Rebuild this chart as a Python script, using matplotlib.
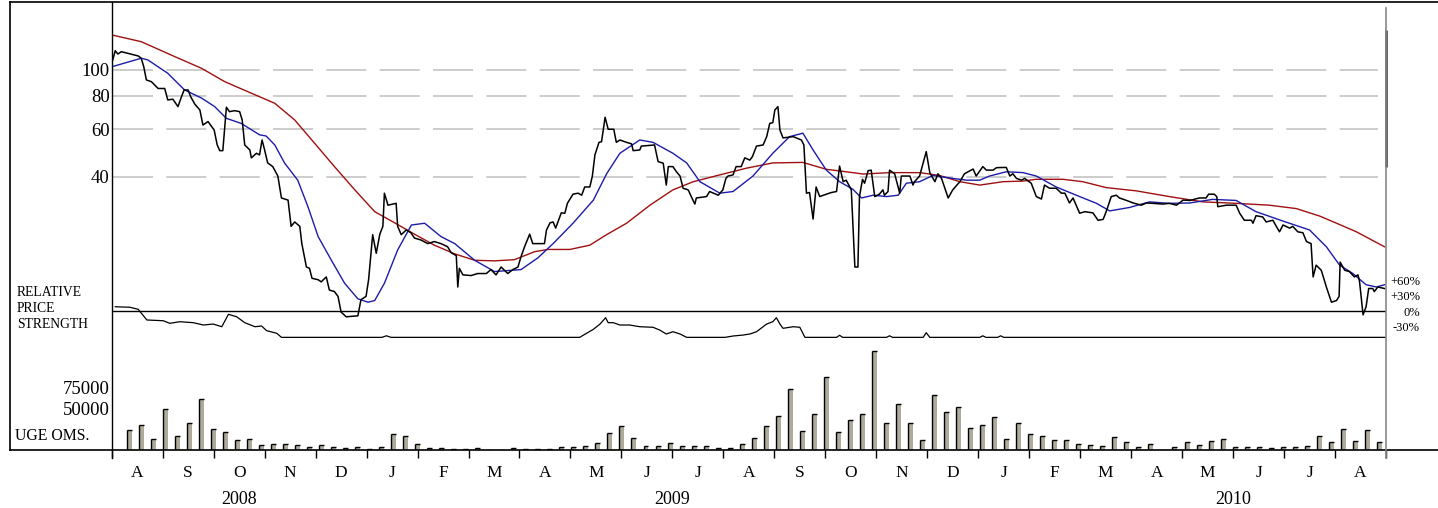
import numpy as np
import matplotlib
matplotlib.use("Agg")
import matplotlib.pyplot as plt
from matplotlib.lines import Line2D

plt.rcParams['font.family'] = ['Liberation Serif', 'DejaVu Serif']
plt.rcParams['lines.scale_dashes'] = False

# x values are months since 1 Aug 2008 (0 = Aug 2008 ... 25 = Sep 2010)
month_letters = ["A", "S", "O", "N", "D", "J", "F", "M", "A", "M", "J", "J",
                 "A", "S", "O", "N", "D", "J", "F", "M", "A", "M", "J", "J", "A"]
year_labels = ["2008", "2009", "2010"]
year_pos = [2.5, 11.0, 22.0]

price_t = [0.01, 0.07, 0.12, 0.19, 0.32, 0.52, 0.58, 0.63, 0.68, 0.78, 0.91, 1.04, 1.10, 1.20,
           1.30, 1.36, 1.42, 1.50, 1.55, 1.63, 1.73, 1.79, 1.89, 2.01, 2.07, 2.12, 2.18, 2.25,
           2.31, 2.41, 2.51, 2.56, 2.61, 2.71, 2.74, 2.84, 2.90, 2.95, 3.00, 3.06, 3.16, 3.26,
           3.33, 3.46, 3.52, 3.59, 3.69, 3.73, 3.82, 3.88, 3.93, 4.05, 4.11, 4.21, 4.27, 4.37,
           4.44, 4.50, 4.60, 4.83, 4.89, 4.99, 5.04, 5.12, 5.19, 5.26, 5.32, 5.35, 5.42, 5.58,
           5.61, 5.68, 5.78, 5.87, 5.94, 6.07, 6.20, 6.33, 6.46, 6.59, 6.66, 6.76, 6.79, 6.82,
           6.89, 7.05, 7.18, 7.35, 7.44, 7.54, 7.64, 7.77, 7.87, 7.97, 8.03, 8.10, 8.20, 8.26,
           8.49, 8.53, 8.60, 8.66, 8.71, 8.82, 8.89, 8.94, 9.05, 9.15, 9.22, 9.28, 9.38, 9.43,
           9.48, 9.56, 9.61, 9.68, 9.74, 9.85, 9.90, 9.97, 10.10, 10.20, 10.23, 10.36, 10.39,
           10.65, 10.72, 10.82, 10.88, 10.92, 11.01, 11.08, 11.15, 11.21, 11.31, 11.37, 11.44,
           11.47, 11.67, 11.73, 11.90, 11.99, 12.05, 12.09, 12.19, 12.25, 12.35, 12.42, 12.52,
           12.57, 12.65, 12.78, 12.85, 12.91, 12.97, 13.01, 13.07, 13.11, 13.17, 13.37, 13.43,
           13.53, 13.58, 13.63, 13.69, 13.76, 13.82, 13.89, 14.02, 14.12, 14.22, 14.28, 14.35,
           14.41, 14.51, 14.58, 14.64, 14.67, 14.73, 14.77, 14.84, 14.90, 14.97, 15.06, 15.13,
           15.16, 15.23, 15.26, 15.36, 15.46, 15.49, 15.66, 15.72, 15.75, 15.85, 15.98, 16.05,
           16.15, 16.21, 16.28, 16.41, 16.50, 16.64, 16.73, 16.90, 16.96, 17.09, 17.16, 17.29,
           17.36, 17.55, 17.62, 17.68, 17.75, 17.85, 17.91, 18.04, 18.14, 18.24, 18.30, 18.40,
           18.53, 18.63, 18.70, 18.79, 18.86, 18.99, 19.09, 19.25, 19.35, 19.45, 19.51, 19.61,
           19.71, 19.77, 19.91, 20.04, 20.20, 20.30, 20.43, 20.62, 20.75, 20.89, 21.02, 21.15,
           21.34, 21.47, 21.52, 21.63, 21.68, 21.70, 21.87, 22.06, 22.13, 22.22, 22.36, 22.39,
           22.45, 22.58, 22.65, 22.78, 22.91, 22.98, 23.11, 23.17, 23.27, 23.37, 23.44, 23.53,
           23.57, 23.63, 23.73, 23.83, 23.93, 24.03, 24.08, 24.10, 24.19, 24.28, 24.38, 24.45,
           24.48, 24.55, 24.61, 24.66, 24.74, 24.77, 24.84, 24.97]
price_v = [107.4, 118, 114.7, 117, 115.3, 112.8, 110.6, 102.6, 91.8, 90.4, 85.3, 85.3, 77.3, 77.8,
           73.0, 78.6, 84.2, 84.2, 79.4, 74.6, 70.9, 62.3, 64.2, 59.7, 52.5, 50.0, 50.0, 72.6,
           69.9, 70.5, 69.9, 65.1, 52.5, 50.3, 47.0, 48.9, 48.2, 54.8, 50.3, 45.0, 43.6, 40.2,
           33.3, 32.7, 26.1, 27.1, 26.1, 22.5, 18.4, 18.2, 16.7, 16.5, 16.2, 16.9, 15.1, 14.9,
           14.3, 12.5, 12.0, 12.1, 13.9, 14.3, 16.5, 24.3, 20.7, 24.4, 26.1, 34.7, 31.3, 31.8,
           26.1, 24.3, 25.3, 24.7, 23.6, 23.2, 22.5, 22.9, 22.5, 21.9, 20.8, 20.3, 15.5, 18.2,
           17.2, 17.1, 17.4, 17.4, 18.0, 17.2, 18.4, 17.4, 18.0, 18.4, 20.1, 21.9, 24.4, 22.5,
           22.5, 25.3, 26.9, 27.1, 25.7, 29.3, 29.2, 31.8, 34.4, 34.7, 34.1, 36.6, 36.6, 40.2,
           48.2, 53.7, 54.0, 66.6, 60.1, 60.1, 53.7, 54.8, 53.7, 53.0, 50.0, 50.3, 52.0,
           52.5, 45.5, 44.9, 37.2, 43.6, 43.6, 41.7, 40.2, 36.2, 35.7, 33.7, 31.6,
           33.3, 33.7, 35.2, 34.1, 35.7, 39.4, 40.2, 40.6, 43.6, 43.6, 47.0, 46.1,
           47.5, 52.0, 52.5, 56.4, 63.2, 63.6, 70.9, 73.0, 59.7, 55.8, 56.4, 55.8,
           54.8, 52.5, 34.7, 34.9, 27.8, 36.6, 33.7, 34.4, 34.9, 35.2, 43.8, 38.3,
           38.8, 35.7, 18.4, 18.4, 33.7, 39.1, 37.8, 42.1, 42.3, 33.7, 34.4, 35.7,
           34.1, 35.2, 42.3, 41.0, 34.7, 40.2, 40.2, 37.2, 38.3, 40.2, 49.6, 41.4,
           38.3, 41.0, 39.4, 33.3, 35.7, 38.3, 41.0, 42.7, 40.2, 43.6, 42.3, 42.3,
           43.2, 43.3, 40.2, 41.0, 39.4, 38.8, 39.4, 37.8, 33.7, 33.0, 37.2, 36.2,
           36.2, 34.7, 34.7, 31.9, 33.3, 29.2, 29.6, 29.3, 27.5, 27.7, 29.6, 33.7,
           34.1, 33.3, 32.6, 31.9, 31.3, 31.9, 31.8, 31.6, 31.8, 31.3, 32.7, 32.6,
           33.3, 33.3, 34.4, 34.4, 33.7, 30.9, 31.3, 31.3, 29.2, 27.5, 27.5, 26.8,
           28.6, 28.3, 27.1, 27.5, 24.9, 26.4, 25.7, 26.1, 24.9, 24.7, 22.9, 22.5,
           16.9, 18.7, 17.9, 15.5, 13.6, 13.8, 14.3, 19.2, 17.9, 17.7, 16.9, 17.2,
           16.3, 12.2, 13.1, 15.3, 15.3, 14.9, 15.5, 15.3]

ma_short_t = [0.01, 0.58, 0.71, 1.10, 1.43, 1.76, 2.02, 2.25, 2.54, 2.90, 3.03, 3.20, 3.39, 3.65,
              3.85, 4.05, 4.31, 4.57, 4.83, 5.03, 5.16, 5.35, 5.61, 5.88, 6.14, 6.46, 6.73, 7.12,
              7.51, 8.03, 8.36, 8.66, 9.05, 9.45, 9.71, 9.97, 10.36, 10.62, 11.01, 11.28, 11.54,
              11.93, 12.19, 12.58, 12.97, 13.30, 13.56, 13.76, 14.02, 14.28, 14.54, 14.71, 14.94,
              15.20, 15.43, 15.59, 15.85, 16.11, 16.50, 16.77, 17.03, 17.22, 17.55, 17.88, 18.14,
              18.53, 18.99, 19.32, 19.58, 19.97, 20.36, 20.75, 21.15, 21.60, 22.06, 22.45, 22.98,
              23.50, 23.83, 24.09, 24.35, 24.61, 24.81, 24.97]
ma_short_v = [102.9, 110.6, 109, 97.2, 84.2, 78.6, 73.0, 66.0, 63.2, 57.3, 56.7, 52.5, 45.0, 38.8,
              30.9, 23.9, 19.5, 16.0, 14.0, 13.6, 13.8, 16.0, 21.3, 26.4, 26.8, 23.9, 22.5, 19.5,
              17.7, 18.0, 19.9, 22.5, 26.8, 32.7, 41.0, 48.9, 54.8, 53.7, 48.9, 45.0, 38.3,
              34.7, 35.2, 40.2, 48.9, 56.4, 58.1, 50.3, 42.3, 38.3, 35.9, 33.3, 34.1,
              33.7, 34.1, 37.8, 38.3, 40.4, 39.4, 38.8, 38.8, 40.2, 41.7, 41.4, 40.2,
              36.6, 33.7, 31.8, 29.8, 30.7, 32.2, 31.8, 31.9, 32.9, 32.6, 29.6, 27.3,
              25.3, 21.9, 18.7, 17.4, 15.8, 15.5, 15.8]

ma_long_t = [0.01, 0.58, 1.24, 1.76, 2.22, 2.67, 3.20, 3.59, 3.98, 4.37, 4.77, 5.16, 5.55, 5.94,
             6.33, 6.73, 7.12, 7.51, 7.90, 8.30, 8.56, 8.99, 9.38, 9.71, 10.10, 10.56, 11.01,
             11.41, 11.93, 12.45, 12.97, 13.56, 14.02, 14.54, 14.74, 15.26, 15.85, 16.24, 16.64,
             17.03, 17.49, 17.88, 18.14, 18.66, 19.05, 19.51, 20.10, 20.75, 21.41, 22.06, 22.71,
             23.24, 23.70, 24.03, 24.42, 24.97]
ma_long_v = [135, 127.5, 112.1, 101.5, 90.4, 83.0, 75.1, 65.1, 53.3, 43.6, 35.7, 29.6, 26.9, 24.4,
             22.2, 20.6, 19.5, 19.4, 19.6, 21.0, 21.4, 21.4, 22.2, 24.3, 26.8, 31.3, 35.7,
             38.3, 40.6, 43.0, 45.0, 45.2, 42.6, 41.4, 40.9, 41.4, 41.4, 40.4, 38.3,
             37.2, 38.3, 38.5, 39.1, 39.1, 38.3, 36.4, 35.4, 33.7, 32.2, 31.8, 31.3,
             30.4, 28.5, 26.8, 24.9, 21.9]

# relative price strength, percent
rps_t = [0.07, 0.36, 0.52, 0.69, 1.01, 1.14, 1.34, 1.60, 1.80, 1.99, 2.16, 2.29, 2.45, 2.61,
         2.81, 2.94, 3.04, 3.24, 3.33, 5.30, 5.39, 5.48, 9.18, 9.45, 9.58, 9.69, 9.74, 9.84,
         9.97, 10.16, 10.36, 10.62, 10.75, 10.88, 11.01, 11.15, 11.28, 12.03, 12.19, 12.39,
         12.52, 12.65, 12.85, 12.97, 13.04, 13.11, 13.17, 13.37, 13.50, 13.60, 14.22, 14.28,
         14.34, 15.20, 15.26, 15.32, 15.92, 15.98, 16.05, 17.03, 17.09, 17.15, 17.38, 17.44,
         17.50, 25.0]
rps_v = [8.3, 7.2, 3.3, -17.4, -18.8, -23.8, -20.7, -22.6, -27.1, -25.2, -30.4, -6.4, -11.0, -22.6,
         -30.4, -29.0, -38.1, -43.2, -51, -51, -48, -51, -51, -35.4, -25.2, -13.0, -22.6, -22.6,
         -27.1, -27.1, -30.4, -31.5, -36.8, -44.5, -40.1, -44.5, -51, -51, -48.4, -46.5,
         -44.5, -40.1, -25.2, -20.7, -13.0, -25.2, -33.5, -30.4, -31.5, -51, -51, -47,
         -51, -51, -48, -51, -51, -42, -51, -51, -48, -51, -51, -48,
         -51, -51]

# weekly turnover ("uge oms.")
volume = [23800, 30600, 12700, 48800, 16300, 32200, 61500, 25800, 21800, 12300, 13100, 5600,
          7100, 7100, 6000, 3200, 6000, 3600, 2400, 3600, 1200, 3200, 18700, 16300, 7100, 2400,
          2000, 1200, 800, 2000,
          400, 400, 2000, 1600, 1200, 1600, 3200, 4000, 5200, 8700, 19900, 29400, 13900, 4400,
          4800, 8700, 5200, 5200, 4800, 2800, 2800, 6700, 13900, 29400, 40500, 73400, 23400,
          43700, 87700, 22200, 36500, 43700, 118300, 33000, 55600, 32200, 11500, 66300, 46100,
          51600,
          27000, 30600, 40100, 12700, 32600, 18700, 16300, 12300, 11500, 6700, 5600, 4800, 15100,
          9100, 3600, 6700, 400, 4000, 9100, 5600, 10700, 13100, 3600, 3600, 4000, 2400, 3200,
          3600, 4400, 16700, 9500, 25800, 10700, 24600, 9100]
vol_first, vol_last = 0.34, 24.87

grid_levels = [100, 80, 60, 40]
rps_levels = [60, 30, 0, -30]
rps_labels = ["+60%", "+30%", "0%", "-30%"]
vol_levels = [75000, 50000]
range_hi, range_lo = 141, 43.4

W, H = 1438, 508
X0, X1 = 111.7, 1386.0
fig = plt.figure(figsize=(W / 100, H / 100), dpi=100)


def px_axes(y0, y1):
    ax = fig.add_axes([X0 / W, 1 - y1 / H, (X1 - X0) / W, (y1 - y0) / H])
    ax.set_xlim(0, 25)
    ax.axis("off")
    return ax


def fig_line(xs, ys, **kw):
    fig.add_artist(Line2D([x / W for x in xs], [1 - y / H for y in ys], **kw))


# volume panel
axv = px_axes(345, 450)
axv.set_ylim(0, 126000)
vpos = np.linspace(vol_first, vol_last, len(volume))
bw = 0.098
axv.bar(vpos, volume, width=bw, color="#aeaa9c", linewidth=0)
axv.vlines(vpos - bw / 2, 0, volume, colors="black", lw=1.0)
axv.hlines(volume, vpos - bw / 2, vpos + bw / 2, colors="black", lw=1.0)
for lv in vol_levels:
    axv.text(-0.0015, lv, str(lv), transform=axv.get_yaxis_transform(),
             ha="right", va="center_baseline", fontsize=13.5)
axv.vlines(np.arange(0, 26), -9600, 0, colors="black", lw=1.0, clip_on=False)
for i, m in enumerate(month_letters):
    axv.text(i + 0.5, -27600, m, ha="center", va="center", fontsize=12.5, clip_on=False)
for yl, yp in zip(year_labels, year_pos):
    axv.text(yp, -58800, yl, ha="center", va="center", fontsize=13, clip_on=False)

# relative price strength panel
axr = px_axes(270, 345)
axr.set_ylim(-65.8, 79.4)
axr.axhline(0, color="black", lw=1.0)
axr.plot(rps_t, rps_v, color="black", lw=0.9)
for lv, lb in zip(rps_levels, rps_labels):
    axr.text(1.0267, lv, lb, transform=axr.get_yaxis_transform(),
             ha="right", va="center_baseline", fontsize=9)

# price panel (log scale)
axp = px_axes(8, 340)
axp.set_yscale("log")
axp.set_ylim(9.83, 170.3)
for lv in grid_levels:
    axp.plot([0.031, 24.85], [lv, lv], color="#cccccc", lw=1.4,
             linestyle=(0, (28.8, 9.6)), solid_capstyle="butt", dash_capstyle="butt")
    axp.text(-0.0015, lv, str(lv), transform=axp.get_yaxis_transform(),
             ha="right", va="center_baseline", fontsize=13.5)
axp.plot(ma_long_t, ma_long_v, color="#a01010", lw=1.0)
axp.plot(ma_short_t, ma_short_v, color="#1c1ca8", lw=1.0)
axp.plot(price_t, price_v, color="black", lw=1.1)
axp.vlines(25, range_lo, range_hi, colors="#333333", lw=1.8, clip_on=False)

# frame lines
fig_line([9.5, W], [1.5, 1.5], color="black", lw=1.2)
fig_line([9.5, 9.5], [1.5, 450], color="black", lw=1.2)
fig_line([9.5, W], [450, 450], color="black", lw=1.2)
fig_line([X0, X0], [1.5, 458], color="black", lw=1.0)
fig_line([X1, X1], [8, 458], color="#888888", lw=1.2)

# left-side captions
for txt, yy in zip(["RELATIVE", "PRICE", "STRENGTH"], [292.5, 308, 324]):
    fig.text(17 / W, 1 - yy / H, txt, ha="left", va="center", fontsize=9.8)
fig.text(15 / W, 1 - 436.5 / H, "UGE OMS.", ha="left", va="center", fontsize=11.4)

fig.savefig("out.png", dpi=100)
